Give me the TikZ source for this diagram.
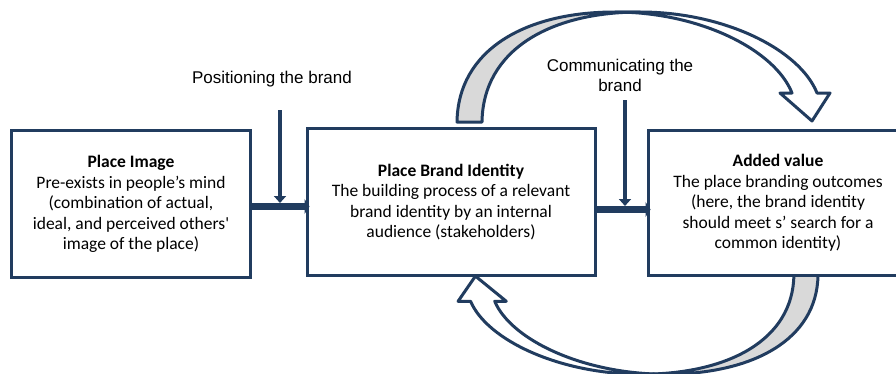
\documentclass[tikz,border=0pt]{standalone}
\usepackage{fontspec}
\usepackage{tikz}
\usetikzlibrary{arrows.meta}
\newfontfamily\calibri{Carlito}
\newfontfamily\arial{Liberation Sans}
\definecolor{brandnavy}{RGB}{33,60,95}
\definecolor{backgray}{RGB}{217,217,217}

% curved block arrow: grey back face at the tail, white front face with the head
\newcommand{\bentarrow}{%
  \filldraw[backface] (457,122) .. controls (458,50) and (525,12) .. (615,12)
    -- (640,12) .. controls (550,12) and (483,50) .. (482,122) -- cycle;
  \filldraw[frontface] (640,12) .. controls (725,12) and (800,50) .. (817,93)
    -- (830,93) -- (812,121) -- (780,93) -- (792,93)
    .. controls (775,50) and (700,12) .. (615,12) -- cycle;
}

\begin{document}
\begin{tikzpicture}[x=1pt,y=-1pt,
  box/.style={draw=brandnavy,line width=3pt,fill=white,align=center,
    font=\calibri\fontsize{17.5}{20.5}\selectfont},
  tag/.style={align=center,font=\arial\fontsize{17}{20}\selectfont},
  link/.style={brandnavy,line width=7pt,-{Triangle[width=15pt,length=5pt]}},
  feed/.style={brandnavy,line width=4pt,-{Triangle[width=12pt,length=7pt]}},
  backface/.style={draw=brandnavy,line width=3pt,line join=round,fill=backgray},
  frontface/.style={draw=brandnavy,line width=3pt,line join=round,fill=white}]
\clip (0,0) rectangle (896,373);

% the two loops
\bentarrow
\begin{scope}[shift={(1259,385)},xscale=-0.965,yscale=-0.9]
  \bentarrow
\end{scope}

% boxes
\node[box,minimum width=239pt,minimum height=147pt] (img) at (131,204)
  {\textbf{Place Image}\\Pre-exists in people’s mind\\(combination of actual,\\ideal, and perceived others'\\image of the place)};
\node[box,minimum width=288pt,minimum height=147pt] (id) at (451,202)
  {\textbf{Place Brand Identity}\\The building process of a relevant\\brand identity by an internal\\audience (stakeholders)};
\node[box,minimum width=260pt,minimum height=145pt] (val) at (778,203)
  {\textbf{Added value}\\The place branding outcomes\\(here, the brand identity\\should meet s’ search for a\\common identity)};

% labels
\node[tag] (pos) at (272,79) {Positioning the brand};
\node[tag] (comm) at (620,75) {Communicating the\\brand};

\coordinate (posin) at (280,110);
\coordinate (commin) at (625,100);

% connectors
\draw[link] (img.east |- 0,206.5) -- ([xshift=4pt]id.west |- 0,206.5);
\draw[link] (id.east |- 0,209.5) -- ([xshift=4pt]val.west |- 0,209.5);
\draw[feed] (posin) -- (posin |- 0,203);
\draw[feed] (commin) -- (commin |- 0,206);
\end{tikzpicture}
\end{document}
